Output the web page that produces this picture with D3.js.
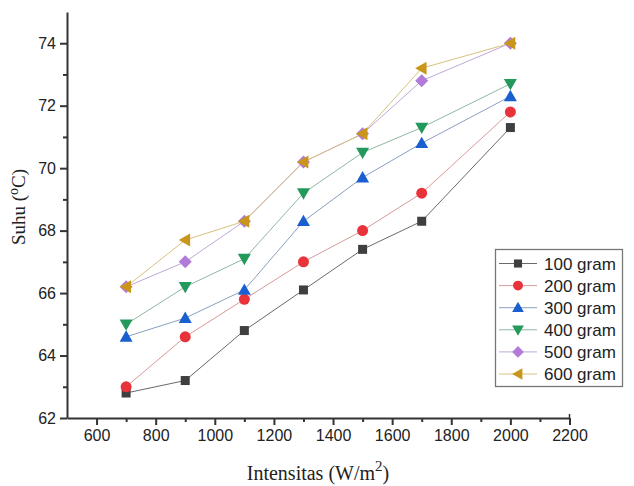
<!DOCTYPE html>
<html><head><meta charset="utf-8">
<script src="https://cdn.jsdelivr.net/npm/d3@7"></script>
<style>body{margin:0;background:#fff}svg{display:block}</style>
</head><body>
<svg id="c" width="634" height="486"></svg>
<script>
const xValues = [700, 900, 1100, 1300, 1500, 1700, 2000];
const seriesNames = ["100 gram", "200 gram", "300 gram", "400 gram", "500 gram", "600 gram"];
const s100 = [62.8, 63.2, 64.8, 66.1, 67.4, 68.3, 71.3];
const s200 = [63.0, 64.6, 65.8, 67.0, 68.0, 69.2, 71.8];
const s300 = [64.6, 65.2, 66.1, 68.3, 69.7, 70.8, 72.3];
const s400 = [65.0, 66.2, 67.1, 69.2, 70.5, 71.3, 72.7];
const s500 = [66.2, 67.0, 68.3, 70.2, 71.1, 72.8, 74.0];
const s600 = [66.2, 67.7, 68.3, 70.2, 71.1, 73.2, 74.0];
const xTicks = [600, 800, 1000, 1200, 1400, 1600, 1800, 2000, 2200];
const yTicks = [62, 64, 66, 68, 70, 72, 74];
const colors = ["#3f3f3f", "#e8333a", "#1a5fd0", "#23995c", "#b27ad9", "#c9961a"];
const lineColors = ["#6a6a6a", "#d99a9a", "#8aa0c0", "#8fb8a0", "#c0a8d8", "#d8c080"];
const symbols = ["square", "circle", "triUp", "triDown", "diamond", "triLeft"];

const series = [s100, s200, s300, s400, s500, s600].map((v, i) => ({name: seriesNames[i], values: v, color: colors[i], line: lineColors[i], sym: symbols[i]}));

const svg = d3.select("#c");
const L = 67, R = 569.5, T = 12, B = 418;
const x = d3.scaleLinear().domain([500, 2200]).range([L, R]);
const y = d3.scaleLinear().domain([62, 75]).range([B, T]);

function marker(g, type, cx, cy, color, s) {
  s = s || 1;
  let el;
  if (type === "square") el = g.append("rect").attr("x", cx - 4.5*s).attr("y", cy - 4.5*s).attr("width", 9*s).attr("height", 9*s);
  else if (type === "circle") el = g.append("circle").attr("cx", cx).attr("cy", cy).attr("r", 5.5*s);
  else {
    let pts;
    const a = 6.5*s;
    if (type === "triUp") pts = [[0,-a],[a,a*0.75],[-a,a*0.75]];
    else if (type === "triDown") pts = [[0,a],[a,-a*0.75],[-a,-a*0.75]];
    else if (type === "triLeft") pts = [[-a,0],[a*0.75,-a],[a*0.75,a]];
    else pts = [[0,-a],[a,0],[0,a],[-a,0]];
    el = g.append("path").attr("d", "M" + pts.map(p => (cx+p[0]) + "," + (cy+p[1])).join("L") + "Z");
  }
  el.attr("fill", color);
}

// lines
const line = d3.line().x((d, i) => x(xValues[i])).y(d => y(d));
series.forEach(s => {
  svg.append("path").datum(s.values).attr("d", line).attr("fill", "none")
    .attr("stroke", s.line).attr("stroke-width", 1);
});
series.forEach(s => {
  const g = svg.append("g");
  s.values.forEach((v, i) => marker(g, s.sym, x(xValues[i]), y(v), s.color));
});

// axes
const xAxis = svg.append("g").attr("transform", `translate(0,${B})`)
  .call(d3.axisBottom(x).tickValues(xTicks).tickFormat(d3.format("d")).tickSize(7).tickSizeOuter(0).tickPadding(5));
const xMinor = svg.append("g").attr("transform", `translate(0,${B})`)
  .call(d3.axisBottom(x).tickValues(d3.range(700, 2200, 200)).tickSize(4).tickFormat("").tickSizeOuter(0));
xMinor.select(".domain").remove();
const yAxis = svg.append("g").attr("transform", `translate(${L},0)`)
  .call(d3.axisLeft(y).tickValues(yTicks).tickFormat(d3.format("d")).tickSize(7).tickSizeOuter(0).tickPadding(4));
const yMinor = svg.append("g").attr("transform", `translate(${L},0)`)
  .call(d3.axisLeft(y).tickValues(d3.range(63, 75, 2)).tickSize(4).tickFormat("").tickSizeOuter(0));
yMinor.select(".domain").remove();
[xAxis, yAxis, xMinor, yMinor].forEach(a => {
  a.selectAll("path,line").attr("stroke", "#333").attr("stroke-width", 2);
  a.selectAll("text").attr("font-family", "Liberation Sans, Arial, sans-serif").attr("font-size", 16).attr("fill", "#222");
});
svg.append("line").attr("x1", x(2200)).attr("x2", x(2200)).attr("y1", B).attr("y2", B - 4).attr("stroke", "#333").attr("stroke-width", 1.5);

// axis titles
const yt = svg.append("text").attr("transform", "translate(25,207) rotate(-90)").attr("text-anchor", "middle")
  .attr("font-family", "Liberation Serif, serif").attr("font-size", 19).attr("fill", "#222");
yt.append("tspan").text("Suhu (");
yt.append("tspan").text("o").attr("dy", -7).attr("font-size", 14);
yt.append("tspan").text("C)").attr("dy", 7);

const xt = svg.append("text").attr("x", 318).attr("y", 480).attr("text-anchor", "middle")
  .attr("font-family", "Liberation Serif, serif").attr("font-size", 20).attr("fill", "#222");
xt.append("tspan").text("Intensitas (W/m");
xt.append("tspan").text("2").attr("dy", -9).attr("font-size", 15);
xt.append("tspan").text(")").attr("dy", 9);

// legend
const lg = svg.append("g");
lg.append("rect").attr("x", 495.5).attr("y", 249.5).attr("width", 127).attr("height", 137)
  .attr("fill", "#fff").attr("stroke", "#777").attr("stroke-width", 1.3);
series.forEach((s, i) => {
  const cy = 263.5 + i * 22.1;
  lg.append("line").attr("x1", 499).attr("x2", 537).attr("y1", cy).attr("y2", cy).attr("stroke", s.line).attr("stroke-width", 1);
  marker(lg, s.sym, 518, cy, s.color, 0.9);
  lg.append("text").attr("x", 544).attr("y", cy + 6).text(s.name)
    .attr("font-family", "Liberation Sans, Arial, sans-serif").attr("font-size", 17).attr("fill", "#222");
});
</script>
</body></html>
